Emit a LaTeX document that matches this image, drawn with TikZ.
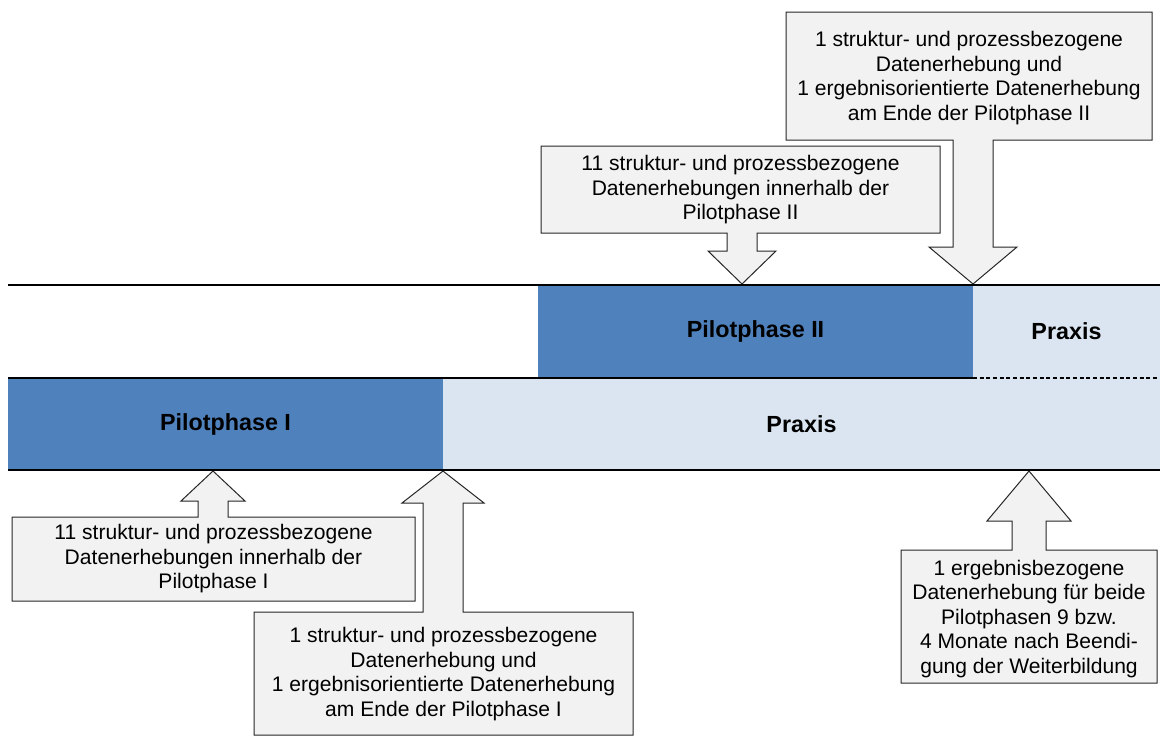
\documentclass[tikz,border=0pt]{standalone}
\usepackage{fontspec}
\setmainfont{Liberation Sans}
\definecolor{pblue}{HTML}{4F81BD}
\definecolor{plight}{HTML}{DBE5F1}
\definecolor{boxfill}{HTML}{F2F2F2}
\definecolor{boxline}{HTML}{262626}
\begin{document}
\begin{tikzpicture}[x=0.75pt,y=-0.75pt,
  callout/.style={fill=boxfill, draw=boxline, line width=0.75pt, line join=miter},
  calltext/.style={align=center, inner sep=0pt, font=\fontsize{15.8}{18.4}\selectfont},
  barlabel/.style={inner sep=0pt, font=\fontsize{17.5}{20}\selectfont\bfseries},
  tline/.style={line width=1.5pt, black}]
\useasboundingbox (0,0) rectangle (1160,736);

% timeline bars
\fill[pblue]  (538,285) rectangle (973,378);
\fill[plight] (973,285) rectangle (1160,378);
\fill[pblue]  (8,378) rectangle (443,470);
\fill[plight] (443,378) rectangle (1160,470);
\node[barlabel] (p2) at (755.5,331.5) {Pilotphase II};
\node[barlabel] (x2) at (1066.5,331.5) {Praxis};
\node[barlabel] (p1) at (225.5,424) {Pilotphase I};
\node[barlabel] (x1) at (801.5,424) {Praxis};

% tips of the callout arrows
\coordinate (t1) at (213,471);
\coordinate (t2) at (443,471);
\coordinate (t3) at (1029,471);
\coordinate (t4) at (742,284);
\coordinate (t5) at (973,284);

% callouts below
\path[callout] (12,517) -- (198,517) -- (198,501) -- (181,501) -- (t1) -- (245,501) -- (228,501) -- (228,517) -- (415,517) -- (415,601) -- (12,601) -- cycle;
\node[calltext] (c1) at (213.5,559) {11 struktur- und prozessbezogene\\Datenerhebungen innerhalb der\\Pilotphase I};

\path[callout] (254,612) -- (423,612) -- (423,503) -- (402,503) -- (t2) -- (484,503) -- (463,503) -- (463,612) -- (633,612) -- (633,735) -- (254,735) -- cycle;
\node[calltext] (c2) at (443.5,674) {1 struktur- und prozessbezogene\\Datenerhebung und\\1 ergebnisorientierte Datenerhebung\\am Ende der Pilotphase I};

\path[callout] (901,550) -- (1012,550) -- (1012,521) -- (987,521) -- (t3) -- (1071,521) -- (1046,521) -- (1046,550) -- (1157,550) -- (1157,683) -- (901,683) -- cycle;
\node[calltext] (c3) at (1029,619) {1 ergebnisbezogene\\Datenerhebung f\"ur beide\\Pilotphasen 9 bzw.\\4 Monate nach Beendi-\\gung der Weiterbildung};

% callouts above
\path[callout] (786,12) -- (1152,12) -- (1152,140) -- (993,140) -- (993,247) -- (1017,247) -- (t5) -- (929,247) -- (953,247) -- (953,140) -- (786,140) -- cycle;
\node[calltext] (c5) at (969,78) {1 struktur- und prozessbezogene\\Datenerhebung und\\1 ergebnisorientierte Datenerhebung\\am Ende der Pilotphase II};

\path[callout] (541,146) -- (940,146) -- (940,233) -- (757,233) -- (757,251) -- (776,251) -- (t4) -- (708,251) -- (727,251) -- (727,233) -- (541,233) -- cycle;
\node[calltext] (c4) at (740.5,190) {11 struktur- und prozessbezogene\\Datenerhebungen innerhalb der\\Pilotphase II};

% timeline lines
\draw[tline] (8,285) -- (1160,285);
\draw[tline] (8,378) -- (973,378);
\draw[black, line width=1pt, dash pattern=on 3pt off 2pt] (973,378) -- (1160,378);
\draw[tline] (8,470) -- (1160,470);
\end{tikzpicture}
\end{document}
